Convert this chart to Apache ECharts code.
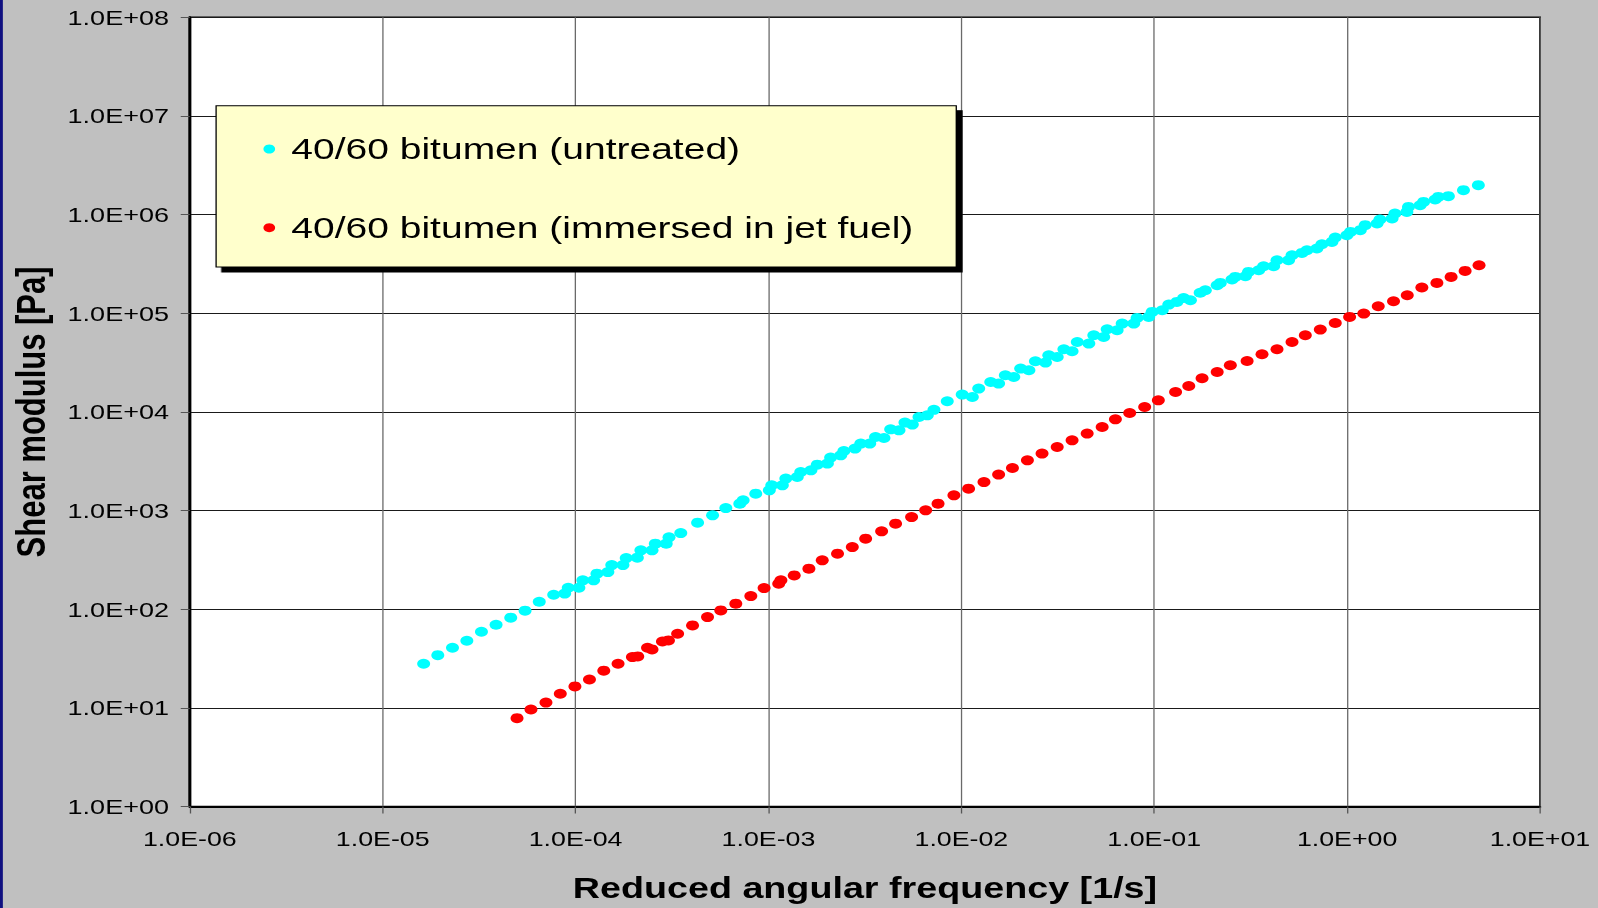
<!DOCTYPE html>
<html>
<head>
<meta charset="utf-8">
<title>Shear modulus master curves</title>
<script src="https://cdn.jsdelivr.net/npm/echarts@6/dist/echarts.min.js"></script>
<style>
  html, body { margin: 0; padding: 0; background: #C0C0C0; overflow: hidden; }
  /* the chart is laid out narrow and stretched sideways to the page width */
  #chart { width: 1229px; height: 908px; transform: scaleX(1.300244); transform-origin: 0 0; }
</style>
</head>
<body>
<div id="chart"></div>
<script>
// Tick labels of the two logarithmic axes
const xTickLabels = ['1.0E-06', '1.0E-05', '1.0E-04', '1.0E-03', '1.0E-02', '1.0E-01', '1.0E+00', '1.0E+01'];
const yTickLabels = ['1.0E+00', '1.0E+01', '1.0E+02', '1.0E+03', '1.0E+04', '1.0E+05', '1.0E+06', '1.0E+07', '1.0E+08'];

const seriesNames = ['40/60 bitumen (untreated)', '40/60 bitumen (immersed in jet fuel)'];

// 40/60 bitumen, untreated: reduced angular frequency [1/s] and shear modulus [Pa]
const untreatedFreq = [
  1.63e-5, 1.93e-5, 2.30e-5, 2.73e-5, 3.25e-5, 3.87e-5, 4.61e-5, 5.47e-5, 6.48e-5, 7.70e-5,
  8.78e-5, 9.16e-5, 1.04e-4, 1.09e-4, 1.24e-4, 1.29e-4, 1.47e-4, 1.54e-4, 1.76e-4, 1.83e-4,
  2.09e-4, 2.18e-4, 2.49e-4, 2.59e-4, 2.95e-4, 3.05e-4,
  3.51e-4, 4.29e-4, 5.13e-4, 6.01e-4, 7.10e-4, 7.39e-4, 8.59e-4, 1.01e-3, 1.04e-3, 1.18e-3,
  1.23e-3, 1.41e-3, 1.47e-3, 1.66e-3, 1.79e-3, 2.02e-3, 2.10e-3, 2.37e-3, 2.46e-3, 2.81e-3,
  3.01e-3, 3.35e-3, 3.59e-3, 3.97e-3, 4.30e-3, 4.75e-3, 5.10e-3, 5.57e-3, 6.03e-3, 6.66e-3,
  7.21e-3,
  8.45e-3, 1.01e-2, 1.14e-2, 1.23e-2, 1.42e-2, 1.56e-2, 1.69e-2, 1.87e-2, 2.03e-2, 2.24e-2,
  2.42e-2, 2.73e-2, 2.84e-2, 3.14e-2, 3.40e-2, 3.75e-2, 3.99e-2, 4.58e-2, 4.86e-2, 5.47e-2,
  5.70e-2, 6.42e-2, 6.82e-2, 7.83e-2, 8.15e-2, 9.36e-2, 9.75e-2, 0.110, 0.119, 0.131,
  0.142, 0.154, 0.173,
  0.184, 0.212, 0.220, 0.253, 0.263, 0.297, 0.308, 0.348, 0.369, 0.416,
  0.433, 0.497, 0.518, 0.583, 0.619, 0.697, 0.740, 0.834, 0.868, 0.997,
  1.04, 1.17, 1.24, 1.43, 1.48, 1.71, 1.77, 2.04, 2.08, 2.39,
  2.49, 2.86, 2.97, 3.35, 4.01, 4.79
];
const untreatedModulus = [
  28.0, 34.2, 40.7, 47.9, 59.1, 69.6, 82.0, 96.6, 119, 140,
  144, 165, 165, 196, 196, 229, 238, 280, 280, 330,
  333, 395, 395, 462, 462, 535,
  591, 754, 894, 1060, 1175, 1269, 1484, 1603, 1801, 1801,
  2107, 2186, 2458, 2556, 2921, 2990, 3440, 3630, 4013, 4244,
  4770, 4770, 5565, 5437, 6660, 6507, 7790, 7433, 8878, 9237,
  10500,
  12810, 14980, 14160, 17230, 20100, 19370, 23510, 22590, 27490, 26420,
  32610, 31620, 37500, 36050, 43140, 41170, 51150, 49280, 59840, 57500,
  68810, 67230, 78630, 78630, 89600, 91730, 103100, 107200, 122500, 130200,
  142900, 135500, 161400,
  171100, 192300, 202900, 219700, 233400, 237300, 262400, 273000, 299800, 299800,
  344800, 344800, 387400, 408900, 435500, 453200, 501000, 528700, 585800, 618100,
  667700, 694800, 780800, 812100, 891800, 912800, 1026000, 1065000, 1197000, 1245000,
  1345000, 1423000, 1512000, 1537000, 1768000, 1987000
];

// 40/60 bitumen, immersed in jet fuel
const immersedFreq = [
  4.97e-5, 5.87e-5, 7.02e-5, 8.33e-5, 9.92e-5, 1.18e-4, 1.40e-4, 1.66e-4, 1.97e-4, 2.10e-4,
  2.36e-4, 2.49e-4, 2.82e-4, 3.03e-4, 3.38e-4,
  4.04e-4, 4.83e-4, 5.66e-4, 6.77e-4, 8.10e-4, 9.49e-4, 1.13e-3, 1.16e-3, 1.36e-3, 1.62e-3,
  1.90e-3, 2.28e-3, 2.72e-3, 3.19e-3, 3.86e-3, 4.56e-3, 5.52e-3, 6.53e-3, 7.57e-3,
  9.15e-3, 1.09e-2, 1.31e-2, 1.56e-2, 1.84e-2, 2.20e-2, 2.62e-2, 3.14e-2, 3.75e-2, 4.49e-2,
  5.37e-2, 6.29e-2, 7.46e-2, 8.92e-2, 0.105, 0.129, 0.151, 0.177,
  0.212, 0.248, 0.303, 0.362, 0.433, 0.518, 0.607, 0.726, 0.868, 1.03,
  1.22, 1.45, 1.74, 2.05, 2.44, 2.92, 3.46, 4.09, 4.83
];
const immersedModulus = [
  7.86, 9.63, 11.3, 13.9, 16.5, 19.4, 23.8, 28.0, 32.7, 33.2,
  40.7, 39.1, 47.1, 48.3, 56.4,
  68.5, 83.2, 97.2, 113.7, 135.8, 163.7, 181.4, 196, 220.2, 257.5,
  312.6, 365.5, 426.4, 518.8, 615.2, 736.5, 859.2, 1005, 1175,
  1427, 1668, 1945, 2313, 2698, 3229, 3777, 4406, 5152, 6025,
  7028, 8414, 9745, 11210, 13110, 15920, 18310, 21920,
  25390, 29690, 32830, 38380, 43140, 51150, 59840, 68330, 79720, 91730,
  99300, 117800, 132300, 152300, 182300, 202900, 233400, 268500, 306800
];

const pairs = (xs, ys) => xs.map((x, i) => [x, ys[i]]);
const FONT = "'Liberation Sans', Arial, Helvetica, sans-serif";

const chart = echarts.init(document.getElementById('chart'), null, { renderer: 'svg' });

chart.setOption({
  animation: false,
  backgroundColor: '#C0C0C0',
  graphic: [
    // dark strip along the left edge of the slide
    { type: 'rect', left: 0, top: 0, shape: { width: 2.2, height: 908 }, style: { fill: '#101080' }, silent: true }
  ],
  grid: {
    left: 145, right: 44.6, top: 17.3, bottom: 101.5,
    show: true, backgroundColor: '#FFFFFF', borderColor: '#000000', borderWidth: 1.5
  },
  legend: {
    orient: 'vertical',
    left: 166.2, top: 105.7,
    padding: [28.3, 32.8, 24.3, 36.4],
    itemGap: 48.7,
    itemWidth: 24, itemHeight: 9,
    icon: 'circle',
    backgroundColor: '#FFFFCC',
    borderColor: '#000000', borderWidth: 1,
    shadowColor: '#000000', shadowBlur: 0, shadowOffsetX: 4.4, shadowOffsetY: 5,
    selectedMode: false,
    textStyle: { fontFamily: FONT, fontSize: 30, color: '#000000', lineHeight: 30 },
    data: seriesNames
  },
  xAxis: {
    type: 'log', logBase: 10, min: 1e-6, max: 10, splitNumber: 7,
    name: 'Reduced angular frequency [1/s]',
    nameLocation: 'middle', nameGap: 67,
    nameTextStyle: { fontFamily: FONT, fontSize: 29, fontWeight: 'bold', color: '#000000' },
    axisLine: { show: true, lineStyle: { color: '#000000', width: 2 } },
    axisTick: { show: true, length: 7, lineStyle: { color: '#555555', width: 1 } },
    axisLabel: {
      margin: 22, fontFamily: FONT, fontSize: 20.6, color: '#000000',
      formatter: v => xTickLabels[Math.round(Math.log10(v) + 6)]
    },
    splitLine: { show: true, lineStyle: { color: '#6a6a6a', width: 1 } },
    minorTick: { show: false }
  },
  yAxis: {
    type: 'log', logBase: 10, min: 1, max: 1e8, splitNumber: 8,
    name: 'Shear modulus [Pa]',
    nameLocation: 'middle', nameGap: 107, nameRotate: 90,
    nameTextStyle: { fontFamily: FONT, fontSize: 31, fontWeight: 'bold', color: '#000000' },
    axisLine: { show: true, lineStyle: { color: '#000000', width: 2.3 } },
    axisTick: { show: true, length: 7, lineStyle: { color: '#555555', width: 1 } },
    axisLabel: {
      margin: 16, fontFamily: FONT, fontSize: 20.8, color: '#000000',
      formatter: v => yTickLabels[Math.round(Math.log10(v))]
    },
    splitLine: { show: true, lineStyle: { color: '#1a1a1a', width: 1 } },
    minorTick: { show: false }
  },
  series: [
    {
      name: seriesNames[0], type: 'scatter', symbol: 'circle', symbolSize: 10,
      itemStyle: { color: '#00FFFF', opacity: 1 },
      data: pairs(untreatedFreq, untreatedModulus)
    },
    {
      name: seriesNames[1], type: 'scatter', symbol: 'circle', symbolSize: 10,
      itemStyle: { color: '#FF0000', opacity: 1 },
      data: pairs(immersedFreq, immersedModulus)
    }
  ]
});
</script>
</body>
</html>
